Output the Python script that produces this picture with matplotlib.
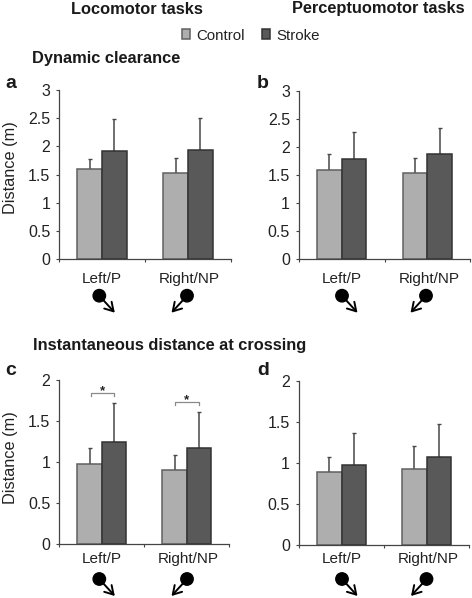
#!/usr/bin/env python3
"""Dynamic clearance and crossing distance bars, control vs stroke, four panels."""
import matplotlib
matplotlib.use("Agg")
import matplotlib.pyplot as plt
from matplotlib.patches import Circle
from matplotlib.text import Annotation

plt.rcParams["font.family"] = ["Liberation Sans", "DejaVu Sans"]

W, H = 472, 598

# ─── Data ──────────────────────────────────────────────────────────────────────
GROUPS = ["Left/P", "Right/NP"]
A_CONTROL = [1.59, 1.52]
A_STROKE = [1.92, 1.94]
A_CONTROL_TOP = [1.77, 1.80]
A_STROKE_TOP = [2.48, 2.51]
B_CONTROL = [1.60, 1.54]
B_STROKE = [1.79, 1.87]
B_CONTROL_TOP = [1.87, 1.80]
B_STROKE_TOP = [2.28, 2.34]
C_CONTROL = [0.98, 0.90]
C_STROKE = [1.25, 1.17]
C_CONTROL_TOP = [1.17, 1.09]
C_STROKE_TOP = [1.72, 1.61]
D_CONTROL = [0.89, 0.93]
D_STROKE = [0.98, 1.08]
D_CONTROL_TOP = [1.08, 1.21]
D_STROKE_TOP = [1.37, 1.48]
TICKS_TOP = [0, 0.5, 1, 1.5, 2, 2.5, 3]
TICK_LABELS_TOP = ["0", "0.5", "1", "1.5", "2", "2.5", "3"]
TICKS_BOTTOM = [0, 0.5, 1, 1.5, 2]
TICK_LABELS_BOTTOM = ["0", "0.5", "1", "1.5", "2"]

CONTROL_COLOR = "#aeaeae"
STROKE_COLOR = "#595959"
TEXT_COLOR = "#222222"
BAR_WIDTH = 0.288

fig = plt.figure(figsize=(W / 100, H / 100), dpi=100, facecolor="white")


def panel(box, control, stroke, control_top, stroke_top, ticks, tick_labels, label_pad):
    """box is left, right, top, bottom of the axes in image pixels."""
    left, right, top, bottom = box
    ax = fig.add_axes([left / W, 1 - bottom / H, (right - left) / W, (bottom - top) / H])
    ax.set_facecolor("none")
    bars = []
    for i in range(len(GROUPS)):
        x_c, x_s = i + 0.5 - BAR_WIDTH / 2, i + 0.5 + BAR_WIDTH / 2
        b1 = ax.bar(x_c, control[i], BAR_WIDTH, color=CONTROL_COLOR, edgecolor="#606060", linewidth=1.1, zorder=2)
        b2 = ax.bar(x_s, stroke[i], BAR_WIDTH, color=STROKE_COLOR, edgecolor="#333333", linewidth=1.1, zorder=3)
        ax.errorbar(x_c, control[i], yerr=[[0], [control_top[i] - control[i]]], color="#484848",
                    elinewidth=1.1, capsize=1.1, capthick=1, zorder=1)
        ax.errorbar(x_s, stroke[i], yerr=[[0], [stroke_top[i] - stroke[i]]], color="#484848",
                    elinewidth=1.1, capsize=1.1, capthick=1, zorder=1)
        bars = [b1, b2]
    ax.set_xlim(0, 2)
    ax.set_ylim(0, ticks[-1])
    ax.set_yticks(ticks, tick_labels, fontsize=11.5, color=TEXT_COLOR)
    ax.set_xticks([0, 1, 2], ["", "", ""])
    ax.set_xticks([0.5, 1.52], GROUPS, minor=True, fontsize=11, color=TEXT_COLOR)
    ax.tick_params(axis="both", which="major", length=2.5, width=0.8, color="#444444", pad=4)
    ax.tick_params(axis="x", which="minor", length=0, pad=label_pad)
    # baseline anchored so Left/P and Right/NP sit on the same line
    for tick in ax.xaxis.get_minor_ticks():
        tick.label1.set_va("baseline")
    for side in ("top", "right"):
        ax.spines[side].set_visible(False)
    for side in ("left", "bottom"):
        ax.spines[side].set_color("#444444")
        ax.spines[side].set_linewidth(0.9)
    return ax, bars


def heading_icon(cx, cy, direction):
    """Ball with an arrow leaving it, below each group label (image pixels)."""
    start = (cx / W, 1 - cy / H)
    end = ((cx + 15.5 * direction) / W, 1 - (cy + 17) / H)
    fig.add_artist(Circle((cx, H - cy), 6.2, transform=None, color="black", zorder=5))
    fig.add_artist(Annotation(
        "", xy=end, xytext=start, xycoords="figure fraction", textcoords="figure fraction",
        arrowprops=dict(arrowstyle="->,head_length=0.6,head_width=0.36", color="black",
                        lw=1.4, shrinkA=0, shrinkB=0)))


def bracket(ax, x0, x1, y, drop=0.03):
    ax.plot([x0, x0, x1, x1], [y - drop, y, y, y - drop], color="#8a8a8a", lw=0.9, clip_on=False, zorder=4)
    ax.text((x0 + x1) / 2, y - 0.045, "*", ha="center", va="bottom", fontsize=9.5,
            fontweight="bold", color=TEXT_COLOR)


ax_a, handles = panel((59.3, 230.7, 90.3, 258.7), A_CONTROL, A_STROKE, A_CONTROL_TOP, A_STROKE_TOP,
                      TICKS_TOP, TICK_LABELS_TOP, 17.5)
ax_b, _ = panel((299, 470.3, 91.3, 259), B_CONTROL, B_STROKE, B_CONTROL_TOP, B_STROKE_TOP,
                TICKS_TOP, TICK_LABELS_TOP, 17)
ax_c, _ = panel((59.3, 229.3, 380, 544.3), C_CONTROL, C_STROKE, C_CONTROL_TOP, C_STROKE_TOP,
                TICKS_BOTTOM, TICK_LABELS_BOTTOM, 13.5)
ax_d, _ = panel((299, 469.3, 381, 545.3), D_CONTROL, D_STROKE, D_CONTROL_TOP, D_STROKE_TOP,
                TICKS_BOTTOM, TICK_LABELS_BOTTOM, 13)

for y_px in (168, 458):
    fig.text(10.5 / W, 1 - y_px / H, "Distance (m)", fontsize=11.7, color=TEXT_COLOR,
             rotation=90, ha="center", va="center")

bracket(ax_c, 0.37, 0.647, 1.84)
bracket(ax_c, 1.358, 1.64, 1.73)

# Walker icons under the group labels
for cx, direction, cy in [(99.3, 1, 295.7), (187, -1, 295.7), (342, 1, 295.7), (426, -1, 295.7),
                          (99.3, 1, 579), (187, -1, 579), (342, 1, 579), (426.5, -1, 579)]:
    heading_icon(cx, cy, direction)


def label(x, y, s, size):
    fig.text(x / W, 1 - y / H, s, fontsize=size, fontweight="bold", color="#1a1a1a", ha="left", va="baseline")


label(71, 13.5, "Locomotor tasks", 11.75)
label(292, 13.5, "Perceptuomotor tasks", 11.75)
label(32, 63.5, "Dynamic clearance", 11.75)
label(33, 350, "Instantaneous distance at crossing", 11.75)
label(5, 88, "a", 14)
label(257, 88, "b", 14)
label(5, 375, "c", 14)
label(257, 375, "d", 14)

fig.legend(handles, ["Control", "Stroke"], ncol=2, loc="center left", bbox_to_anchor=(182 / W, 1 - 35.5 / H),
           frameon=False, fontsize=10.8, handlelength=0.55, handleheight=0.6, handletextpad=0.41,
           columnspacing=1.15, borderpad=0, borderaxespad=0, labelcolor=TEXT_COLOR)

fig.savefig("out.png", dpi=100)
